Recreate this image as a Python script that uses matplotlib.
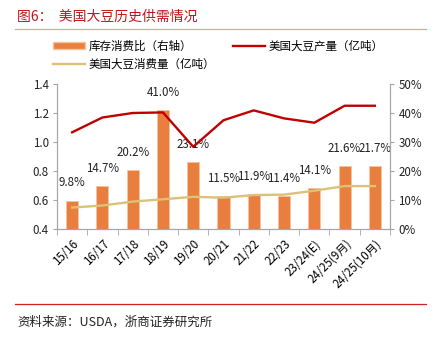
import matplotlib
matplotlib.use('Agg')
from matplotlib import pyplot as plt
from matplotlib.patches import Patch
from matplotlib.lines import Line2D
import numpy as np

plt.rcParams['font.family'] = ['Noto Sans CJK SC', 'DejaVu Sans']

years = ['15/16', '16/17', '17/18', '18/19', '19/20', '20/21', '21/22',
         '22/23', '23/24(E)', '24/25(9月)', '24/25(10月)']
stock_ratio = [9.8, 14.7, 20.2, 41.0, 23.1, 11.5, 11.9, 11.4, 14.1, 21.6, 21.7]
production = [1.067, 1.169, 1.200, 1.204, 0.967, 1.150, 1.218, 1.163, 1.133, 1.250, 1.250]
consumption = [0.548, 0.562, 0.589, 0.605, 0.622, 0.616, 0.634, 0.637, 0.664, 0.696, 0.696]

bar_color = '#E97F3E'
red = '#C00000'
tan = '#DCC177'
spine_grey = '#A6A6A6'

fig = plt.figure(figsize=(4.36, 3.38), dpi=100)
ax = fig.add_axes([57 / 436, 1 - 229 / 338, 333 / 436, 145 / 338])
ax2 = ax.twinx()

x = np.arange(len(years))
ax2.bar(x, np.array(stock_ratio) / 100, width=0.4, color=bar_color,
        edgecolor='#F6C3A0', linewidth=0.7, zorder=1)
for xi, v in zip(x, stock_ratio):
    ax2.annotate(f'{v:.1f}%', (xi, v / 100), xytext=(0, 8), textcoords='offset points',
                 ha='center', va='bottom', fontsize=8.3, color='#222222')

ax.set_zorder(ax2.get_zorder() + 1)
ax.patch.set_visible(False)
ax.plot(x, production, color=red, lw=1.7, zorder=3)
ax.plot(x, consumption, color=tan, lw=1.7, zorder=3)

ax.set_xlim(-0.5, len(years) - 0.5)
ax.set_ylim(0.4, 1.4)
ax.set_yticks(np.arange(0.4, 1.41, 0.2))
ax.set_yticklabels([f'{v:.1f}' for v in np.arange(0.4, 1.41, 0.2)])
ax2.set_ylim(0, 0.5)
ax2.set_yticks(np.arange(0, 0.51, 0.1))
ax2.set_yticklabels([f'{int(round(v * 100))}%' for v in np.arange(0, 0.51, 0.1)])

ax.set_xticks(x)
ax.set_xticklabels(years, rotation=45, ha='right', rotation_mode='anchor')
ax.set_xticks(np.arange(-0.5, len(years)), minor=True)
ax.tick_params(axis='x', which='major', length=0, pad=6, labelsize=8.3)
ax.tick_params(axis='x', which='minor', length=4, color=spine_grey, direction='out')
ax.tick_params(axis='y', length=3, color=spine_grey, labelsize=8.3, pad=3, labelcolor='#222222')
ax2.tick_params(axis='y', length=3, color=spine_grey, labelsize=8.3, pad=3, labelcolor='#222222')

for a in (ax, ax2):
    a.spines['top'].set_visible(False)
    for s in ('left', 'right', 'bottom'):
        a.spines[s].set_color(spine_grey)
        a.spines[s].set_linewidth(0.8)

handles = [Patch(facecolor=bar_color, edgecolor='#F6C3A0'),
           Line2D([], [], color=tan, lw=1.7),
           Line2D([], [], color=red, lw=1.7)]
labels = ['库存消费比（右轴）', '美国大豆消费量（亿吨）', '美国大豆产量（亿吨）']
fig.legend(handles, labels, ncol=2, loc='upper left', bbox_to_anchor=(43 / 436, 1 - 29 / 338),
           frameon=False, fontsize=8.3, handlelength=2.7, handleheight=0.6,
           handletextpad=0.35, columnspacing=1.6, labelspacing=0.45)

fig.text(17 / 436, 1 - 17 / 338, '图6：  美国大豆历史供需情况', color='#C0161C',
         fontsize=10, va='center', ha='left')
fig.add_artist(Line2D([15 / 436, 426 / 436], [1 - 29 / 338] * 2, color='#E8A0A0', lw=0.9))
fig.add_artist(Line2D([15 / 436, 426 / 436], [1 - 304 / 338] * 2, color='#D02020', lw=0.9))
fig.text(17 / 436, 1 - 322 / 338, '资料来源：USDA，浙商证券研究所', color='#222222',
         fontsize=9, va='center', ha='left')

fig.savefig('out.png', dpi=100)
